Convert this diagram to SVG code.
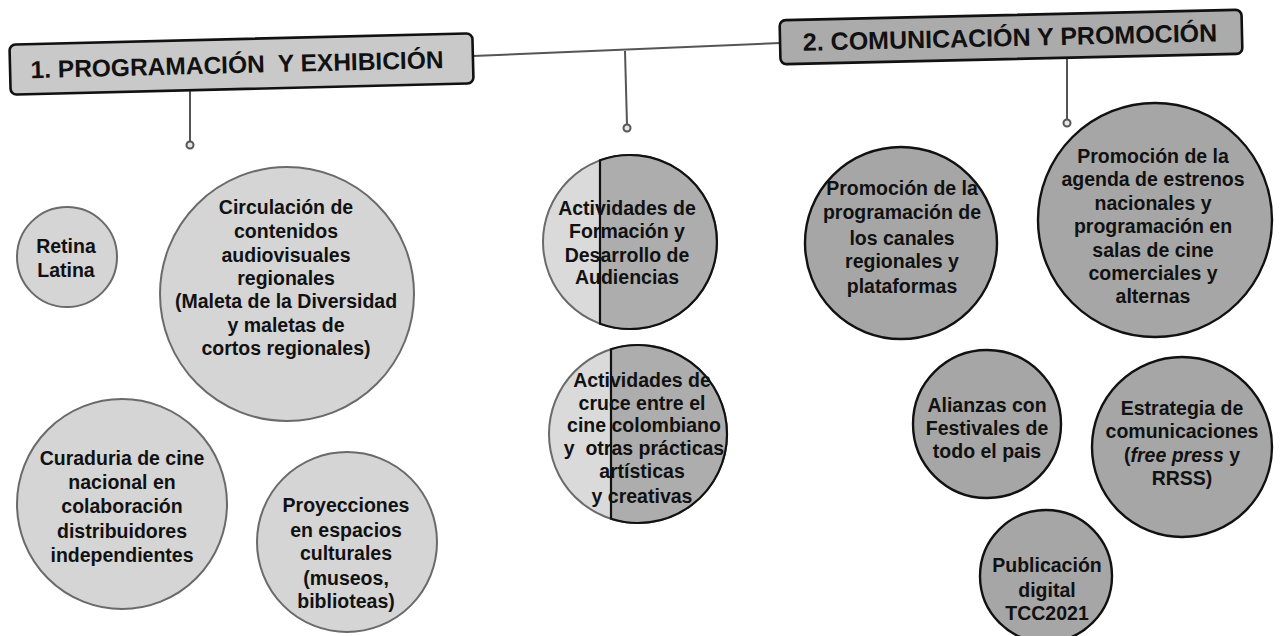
<svg xmlns="http://www.w3.org/2000/svg" width="1283" height="636" viewBox="0 0 1283 636">
  <defs>
    <style>
      .hdr { stroke: #111; stroke-width: 2.6; }
      .hdr1 { fill: #c9c9c9; }
      .hdr2 { fill: #ababab; }
      .htxt { font-family: "Liberation Sans", Arial, sans-serif; font-weight: bold; font-size: 24.5px; fill: #111; }
      .conn { stroke: #555; stroke-width: 2; fill: none; }
      .dot { fill: #e6e6e6; stroke: #555; stroke-width: 2; }
      .c1 { fill: #d5d5d5; stroke: #6a6a6a; stroke-width: 2; }
      .c2l { fill: #dadada; stroke: #6a6a6a; stroke-width: 2; }
      .c2r { fill: #adadad; stroke: #111; stroke-width: 2.2; }
      .c3 { fill: #a6a6a6; stroke: #111; stroke-width: 2.4; }
      .t { font-family: "Liberation Sans", Arial, sans-serif; font-weight: bold; font-size: 19.5px; fill: #111; text-anchor: middle; }
    </style>
  </defs>

  <g id="connectors">
    <path class="conn" d="M473,56 L780,43"/>
    <path class="conn" d="M625,51 L627,125"/>
    <circle class="dot" cx="627" cy="128" r="3.5"/>
    <path class="conn" d="M190,88 L190,142"/>
    <circle class="dot" cx="190" cy="145" r="3.5"/>
    <path class="conn" d="M1067,54 L1067,120"/>
    <circle class="dot" cx="1067" cy="123" r="3.5"/>
  </g>

  <g id="header1" transform="rotate(-1.4 241 64)">
    <rect class="hdr hdr1" x="10" y="39" width="463" height="50" rx="6"/>
    <text class="htxt" x="237" y="73" text-anchor="middle">1. PROGRAMACIÓN&#160; Y EXHIBICIÓN</text>
  </g>

  <g id="header2" transform="rotate(-1.3 1011 37)">
    <rect class="hdr hdr2" x="780" y="15" width="462" height="44" rx="6"/>
    <text class="htxt" x="1010" y="46" text-anchor="middle" style="font-size:25px">2. COMUNICACIÓN Y PROMOCIÓN</text>
  </g>

  <g id="retina">
    <circle class="c1" cx="67" cy="257" r="50"/>
    <text class="t" x="66" y="253">Retina</text>
    <text class="t" x="66" y="277">Latina</text>
  </g>

  <g id="circulacion">
    <circle class="c1" cx="287" cy="294" r="127"/>
    <text class="t" x="286" y="214">Circulación de</text>
    <text class="t" x="286" y="238">contenidos</text>
    <text class="t" x="286" y="262">audiovisuales</text>
    <text class="t" x="286" y="285">regionales</text>
    <text class="t" x="286" y="308">(Maleta de la Diversidad</text>
    <text class="t" x="286" y="332">y maletas de</text>
    <text class="t" x="286" y="355">cortos regionales)</text>
  </g>

  <g id="curaduria">
    <circle class="c1" cx="122" cy="504" r="105"/>
    <text class="t" x="122" y="465">Curaduria de cine</text>
    <text class="t" x="122" y="489">nacional en</text>
    <text class="t" x="122" y="513">colaboración</text>
    <text class="t" x="122" y="538">distribuidores</text>
    <text class="t" x="122" y="562">independientes</text>
  </g>

  <g id="proyecciones">
    <circle class="c1" cx="347" cy="542" r="90"/>
    <text class="t" x="346" y="512">Proyecciones</text>
    <text class="t" x="346" y="537">en espacios</text>
    <text class="t" x="346" y="560">culturales</text>
    <text class="t" x="346" y="585">(museos,</text>
    <text class="t" x="346" y="608">biblioteas)</text>
  </g>

  <g id="formacion">
    <circle class="c2l" cx="630" cy="242" r="87"/>
    <path class="c2r" d="M600,160.3 A87,87 0 1 1 600,323.7 Z"/>
    <text class="t" x="627" y="215">Actividades de</text>
    <text class="t" x="627" y="238">Formación y</text>
    <text class="t" x="627" y="262">Desarrollo de</text>
    <text class="t" x="627" y="284">Audiencias</text>
  </g>

  <g id="cruce">
    <circle class="c2l" cx="638" cy="434" r="89"/>
    <path class="c2r" d="M611,349.2 A89,89 0 1 1 611,518.8 Z"/>
    <text class="t" x="642" y="387">Actividades de</text>
    <text class="t" x="642" y="410">cruce entre el</text>
    <text class="t" x="644" y="432">cine colombiano</text>
    <text class="t" x="644" y="455">y&#160; otras prácticas</text>
    <text class="t" x="642" y="478">artísticas</text>
    <text class="t" x="642" y="503">y creativas</text>
  </g>

  <g id="promo-programacion">
    <circle class="c3" cx="901" cy="243" r="96"/>
    <text class="t" x="902" y="195">Promoción de la</text>
    <text class="t" x="902" y="219">programación de</text>
    <text class="t" x="902" y="245">los canales</text>
    <text class="t" x="902" y="268">regionales y</text>
    <text class="t" x="902" y="293">plataformas</text>
  </g>

  <g id="promo-agenda">
    <circle class="c3" cx="1155" cy="220" r="117"/>
    <text class="t" x="1153" y="163">Promoción de la</text>
    <text class="t" x="1153" y="186">agenda de estrenos</text>
    <text class="t" x="1153" y="210">nacionales y</text>
    <text class="t" x="1153" y="233">programación en</text>
    <text class="t" x="1153" y="257">salas de cine</text>
    <text class="t" x="1153" y="280">comerciales y</text>
    <text class="t" x="1153" y="303">alternas</text>
  </g>

  <g id="alianzas">
    <circle class="c3" cx="987" cy="424" r="74"/>
    <text class="t" x="987" y="412">Alianzas con</text>
    <text class="t" x="987" y="435">Festivales de</text>
    <text class="t" x="987" y="458">todo el pais</text>
  </g>

  <g id="estrategia">
    <circle class="c3" cx="1182" cy="447" r="90"/>
    <text class="t" x="1182" y="415">Estrategia de</text>
    <text class="t" x="1182" y="438">comunicaciones</text>
    <text class="t" x="1182" y="462">(<tspan font-style="italic">free press</tspan> y</text>
    <text class="t" x="1182" y="485">RRSS)</text>
  </g>

  <g id="publicacion">
    <circle class="c3" cx="1046" cy="576" r="66"/>
    <text class="t" x="1047" y="572">Publicación</text>
    <text class="t" x="1047" y="597">digital</text>
    <text class="t" x="1047" y="620">TCC2021</text>
  </g>
</svg>
